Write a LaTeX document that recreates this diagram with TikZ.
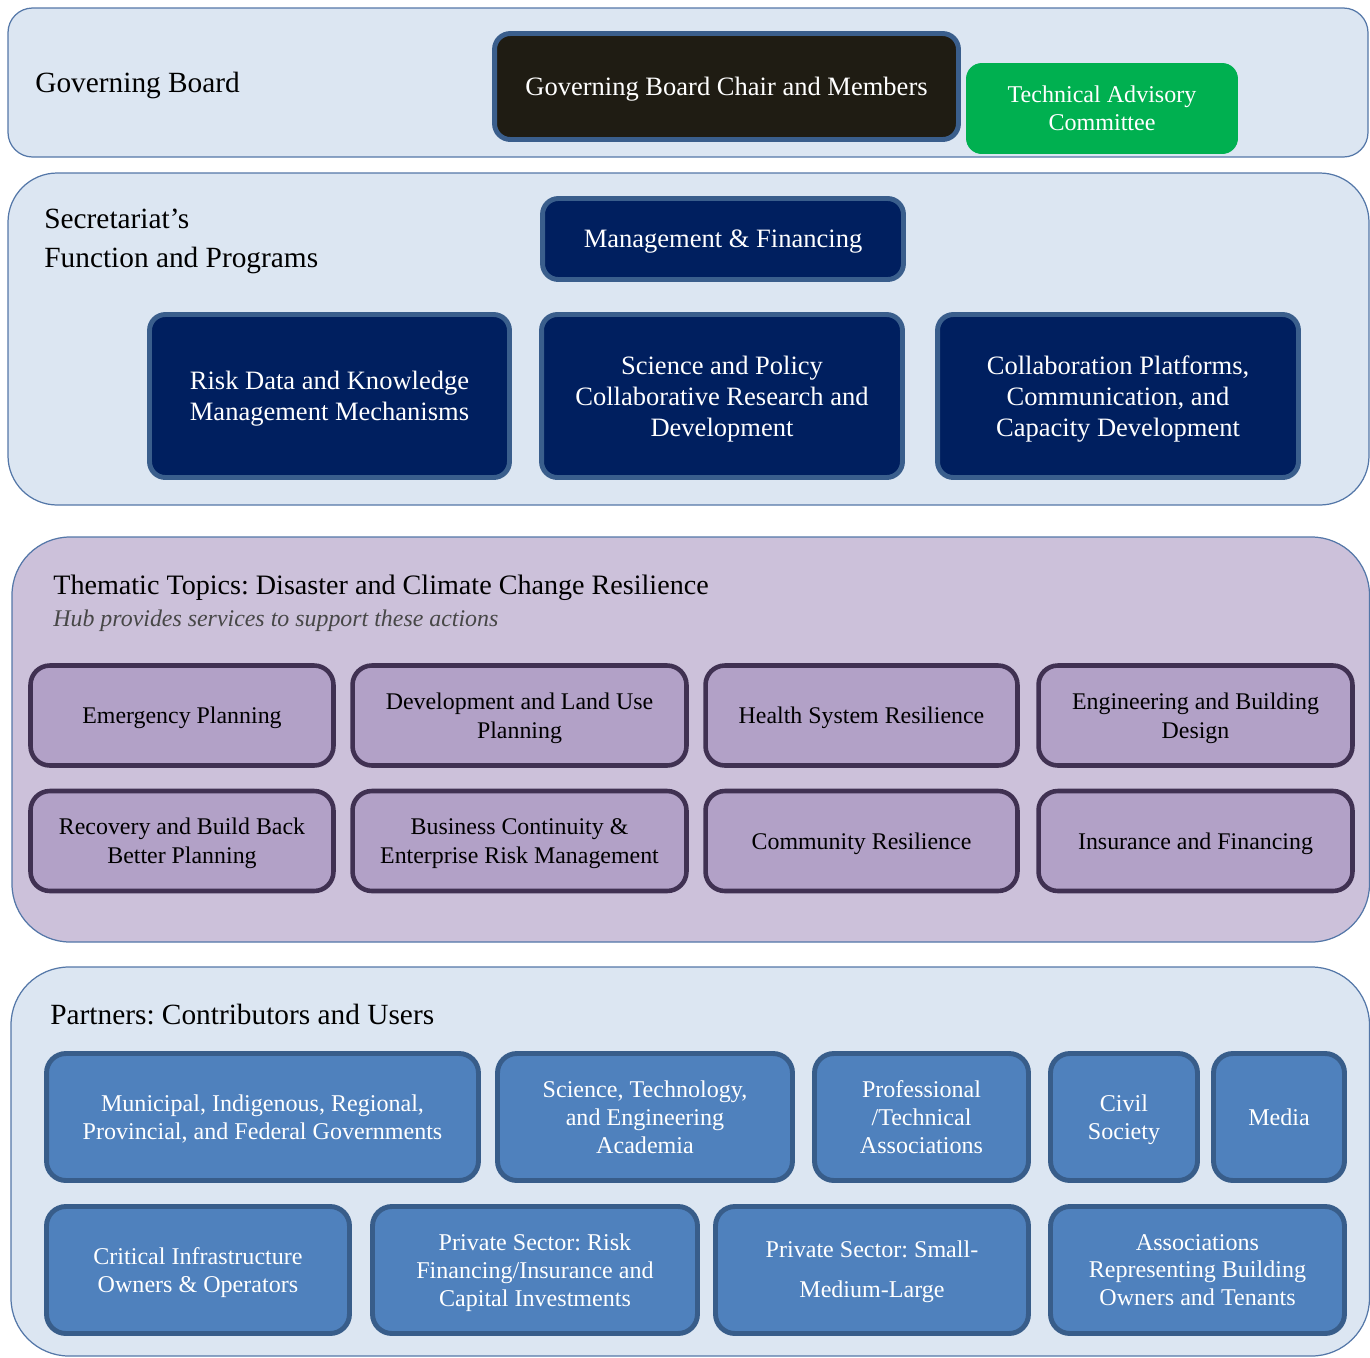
\documentclass[tikz,border=0pt]{standalone}
\usepackage{fontspec}
\setmainfont{Liberation Serif}
\frenchspacing
\definecolor{panelblue}{HTML}{DCE6F2}
\definecolor{panelline}{HTML}{5477A8}
\definecolor{panellilac}{HTML}{CCC1DA}
\definecolor{boardfill}{HTML}{1F1C13}
\definecolor{boxline}{HTML}{3A5E8C}
\definecolor{navyfill}{HTML}{001F5F}
\definecolor{tacgreen}{HTML}{00B050}
\definecolor{topicfill}{HTML}{B2A1C7}
\definecolor{topicline}{HTML}{403152}
\definecolor{partnerfill}{HTML}{4F81BD}
\definecolor{partnerline}{HTML}{385D8A}

\begin{document}
\begin{tikzpicture}[x=0.02cm,y=-0.02cm,
  panel/.style={draw=panelline,line width=0.7pt},
  heading/.style={anchor=base west,inner sep=0pt,align=left,
    font=\fontsize{16.7}{22}\selectfont},
  secbox/.style={draw=boxline,line width=2.8pt,rounded corners=9pt,fill=navyfill,
    text=white,align=center,inner sep=0pt,text depth=-0.8pt,
    font=\fontsize{15.1}{17.6}\selectfont},
  topicbox/.style={draw=topicline,line width=2.6pt,rounded corners=11pt,fill=topicfill,
    align=center,inner sep=0pt,minimum height=2cm,text depth=-0.8pt,
    font=\fontsize{13.6}{16.5}\selectfont},
  partnerbox/.style={draw=partnerline,line width=2.8pt,rounded corners=11pt,fill=partnerfill,
    text=white,align=center,inner sep=0pt,minimum height=2.54cm,text depth=-0.8pt,
    font=\fontsize{13.7}{15.9}\selectfont}]
  \useasboundingbox (0,0) rectangle (1370,1357);

  % panels
  \filldraw[panel,fill=panelblue,rounded corners=14pt] (8,8) rectangle (1368,157);
  \filldraw[panel,fill=panelblue,rounded corners=28pt] (8,173) rectangle (1369,505);
  \filldraw[panel,fill=panellilac,rounded corners=33pt] (12,537) rectangle (1369.5,942);
  \filldraw[panel,fill=panelblue,rounded corners=33pt] (11,967) rectangle (1369.5,1356);

  % governing board
  \node[heading] (boardhead) at (35,92) {Governing Board};
  \node[secbox,fill=boardfill,minimum width=9.28cm,minimum height=2.12cm,text depth=-2pt] (gbchair) at (726.5,86.5)
    {Governing Board Chair and Members};
  \node[fill=tacgreen,rounded corners=9pt,text=white,align=center,inner sep=0pt,text depth=-2.3pt,
    minimum width=5.44cm,minimum height=1.82cm,font=\fontsize{13.7}{15.9}\selectfont] (tac) at (1102,108.5)
    {Technical Advisory\\Committee};

  % secretariat
  \node[heading] (sechead) at (44,267) {Secretariat’s\\Function and Programs};
  \node[secbox,minimum width=7.22cm,minimum height=1.62cm] (mgmt) at (723,239) {Management \& Financing};
  \node[secbox,minimum width=7.2cm,minimum height=3.26cm] (riskdata) at (329.5,396)
    {Risk Data and Knowledge\\Management Mechanisms};
  \node[secbox,minimum width=7.22cm,minimum height=3.26cm] (scipol) at (722,396)
    {Science and Policy\\Collaborative Research and\\Development};
  \node[secbox,minimum width=7.22cm,minimum height=3.26cm] (collab) at (1118,396)
    {Collaboration Platforms,\\Communication, and\\Capacity Development};

  % thematic topics
  \node[heading,font=\fontsize{16}{19}\selectfont] (topichead) at (53,594)
    {Thematic Topics: Disaster and Climate Change Resilience};
  \node[anchor=base west,inner sep=0pt,text=black!72,
    font=\itshape\fontsize{13.6}{16}\selectfont] (topicsub) at (53,626)
    {Hub provides services to support these actions};
  \node[topicbox,minimum width=6.06cm] (emerg) at (182,715.5) {Emergency Planning};
  \node[topicbox,minimum width=6.68cm] (landuse) at (519.5,715.5) {Development and Land Use\\Planning};
  \node[topicbox,minimum width=6.24cm] (health) at (861.5,715.5) {Health System Resilience};
  \node[topicbox,minimum width=6.28cm] (engbuild) at (1195.5,715.5) {Engineering and Building\\Design};
  \node[topicbox,minimum width=6.06cm] (recovery) at (182,841) {Recovery and Build Back\\Better Planning};
  \node[topicbox,minimum width=6.68cm] (bizcont) at (519.5,841)
    {Business Continuity \&\\Enterprise Risk Management};
  \node[topicbox,minimum width=6.24cm] (community) at (861.5,841) {Community Resilience};
  \node[topicbox,minimum width=6.28cm] (insurance) at (1195.5,841) {Insurance and Financing};

  % partners
  \node[heading] (partnerhead) at (50,1024) {Partners: Contributors and Users};
  \node[partnerbox,minimum width=8.64cm] (govts) at (262.5,1117)
    {Municipal, Indigenous, Regional,\\Provincial, and Federal Governments};
  \node[partnerbox,minimum width=5.9cm] (academia) at (645,1117)
    {Science, Technology,\\and Engineering\\Academia};
  \node[partnerbox,minimum width=4.28cm] (profassoc) at (921.5,1117)
    {Professional\\/Technical\\Associations};
  \node[partnerbox,minimum width=2.94cm] (civil) at (1124,1117) {Civil\\Society};
  \node[partnerbox,minimum width=2.62cm] (media) at (1279,1117) {Media};
  \node[partnerbox,minimum width=6.06cm] (infra) at (198,1270)
    {Critical Infrastructure\\Owners \& Operators};
  \node[partnerbox,minimum width=6.5cm] (privrisk) at (535,1270)
    {Private Sector: Risk\\Financing/Insurance and\\Capital Investments};
  \node[partnerbox,minimum width=6.26cm,text depth=1.5pt] (privsize) at (872,1270)
    {Private Sector: Small-\\[6.9pt]Medium-Large};
  \node[partnerbox,minimum width=5.88cm] (buildassoc) at (1197.5,1270)
    {Associations\\Representing Building\\Owners and Tenants};
\end{tikzpicture}
\end{document}
